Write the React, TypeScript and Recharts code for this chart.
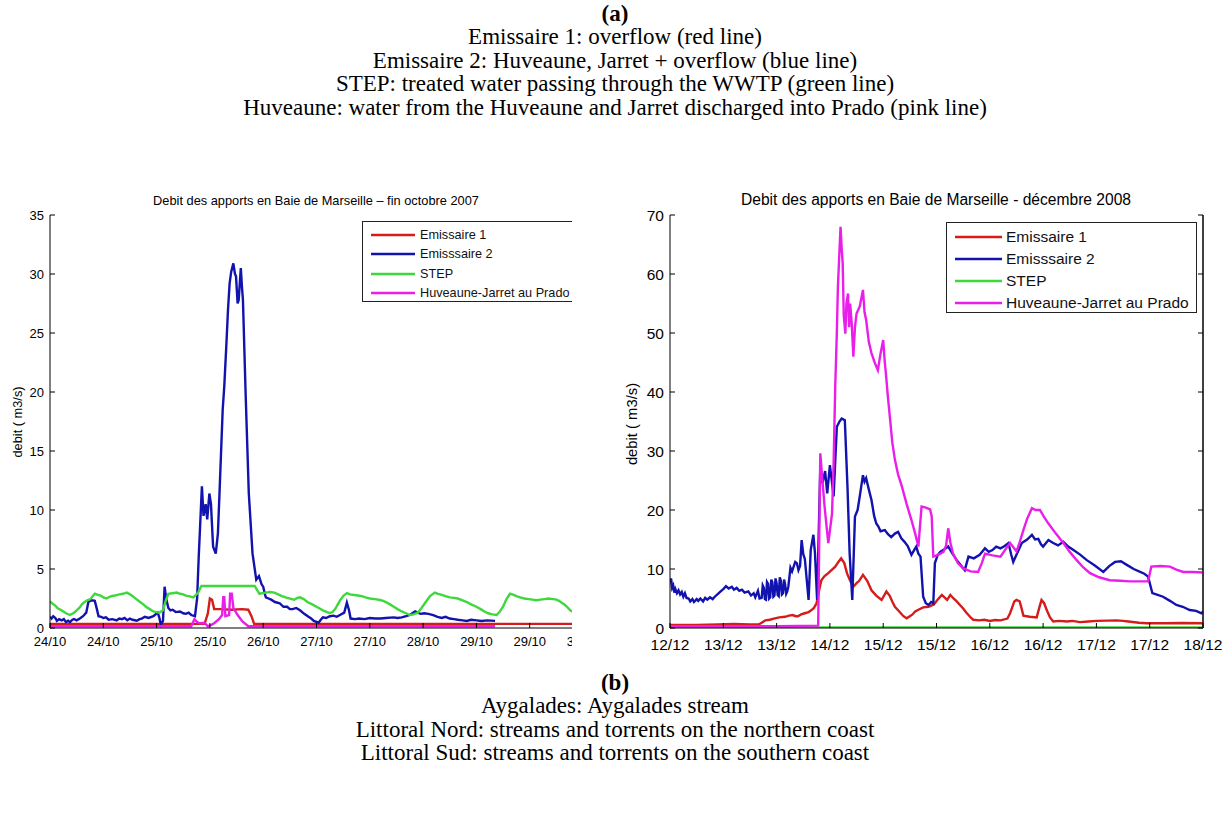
import React from 'react';
import { LineChart, Line, XAxis, YAxis, Legend, ReferenceLine } from 'recharts';

type Pt = [number, number];

// ---------- shared labels ----------
const SERIES_NAMES = ['Emissaire 1', 'Emisssaire 2', 'STEP', 'Huveaune-Jarret au Prado'];
const SERIES_COLORS = ['#d41c1c', '#1212ae', '#3cd83c', '#ea1eea'];
const TICK_STEPS = [0, 1, 2, 3, 4, 5, 6, 7, 8, 9, 10];

// ---------- (a) left panel : fin octobre 2007 ----------
const OCT_TITLE = 'Debit des apports en Baie de Marseille \u2013 fin octobre 2007';
const OCT_X_LABELS = ['24/10', '24/10', '25/10', '25/10', '26/10', '27/10', '27/10', '28/10', '29/10', '29/10', '30/10'];
const OCT_Y_TICKS = [0, 5, 10, 15, 20, 25, 30, 35];

// x = time in axis-tick steps, y = debit (m3/s)
const octEmissaire1: Pt[] = [
  [0, 0.35], [2.9, 0.35], [2.96, 1.2], [3.0, 2.5], [3.04, 2.4], [3.08, 1.6], [3.2, 1.6], [3.4, 1.55],
  [3.6, 1.6], [3.72, 1.55], [3.78, 1.0], [3.83, 0.35], [10, 0.35],
];
const octEmissaire2: Pt[] = [
  [0, 0.95], [0.03, 0.8], [0.06, 1.0], [0.1, 0.85], [0.13, 0.6], [0.17, 0.75], [0.22, 0.65], [0.26, 0.75],
  [0.3, 0.5], [0.34, 0.62], [0.375, 0.5], [0.42, 0.7], [0.45, 0.75], [0.5, 0.65], [0.56, 0.8], [0.62, 1.0],
  [0.68, 1.3], [0.72, 2.2], [0.78, 2.35], [0.84, 2.3], [0.88, 1.6], [0.91, 1.0], [0.96, 0.95], [1.0, 0.85],
  [1.05, 0.9], [1.1, 0.7], [1.17, 0.75], [1.25, 0.65], [1.3, 0.8], [1.35, 0.75], [1.4, 0.85], [1.45, 0.65],
  [1.5, 0.8], [1.55, 0.7], [1.63, 0.62], [1.68, 0.75], [1.72, 0.8], [1.78, 0.95], [1.85, 0.85], [1.94, 1.0],
  [2.02, 1.3], [2.05, 0.9], [2.08, 0.28], [2.12, 0.6], [2.15, 3.5], [2.18, 2.5], [2.22, 1.7], [2.26, 1.5],
  [2.3, 1.55], [2.36, 1.35], [2.44, 1.4], [2.5, 1.25], [2.55, 1.2], [2.6, 1.3], [2.65, 1.1], [2.72, 1.0],
  [2.76, 2.5], [2.79, 6], [2.82, 9], [2.85, 12], [2.88, 9.5], [2.92, 10.5], [2.95, 9.2], [2.99, 11.4],
  [3.02, 10.5], [3.06, 6.9], [3.11, 6.3], [3.15, 8.0], [3.18, 11.4], [3.24, 18.5], [3.27, 20.5], [3.31, 24.1],
  [3.34, 27.0], [3.37, 29.2], [3.4, 30.2], [3.44, 30.9], [3.47, 30.0], [3.49, 29.8], [3.52, 27.5], [3.54, 27.8],
  [3.58, 30.5], [3.6, 29.0], [3.62, 27.8], [3.67, 19.9], [3.73, 11.4], [3.8, 6.3], [3.87, 4.1], [3.92, 4.4],
  [3.97, 3.7], [4.0, 3.5], [4.03, 2.9], [4.05, 2.6], [4.1, 2.5], [4.15, 2.4], [4.22, 2.2], [4.31, 2.1],
  [4.38, 1.8], [4.45, 1.8], [4.5, 1.6], [4.55, 1.6], [4.62, 1.7], [4.69, 1.5], [4.77, 1.2], [4.85, 0.95],
  [4.9, 0.8], [4.95, 0.6], [5.04, 0.45], [5.08, 0.7], [5.12, 0.9], [5.18, 0.85], [5.25, 1.0], [5.32, 1.05],
  [5.38, 0.95], [5.44, 1.1], [5.52, 1.3], [5.57, 2.15], [5.61, 1.5], [5.64, 0.8], [5.72, 0.75], [5.8, 0.8],
  [5.9, 0.75], [6.0, 0.85], [6.1, 0.8], [6.2, 0.8], [6.3, 0.85], [6.45, 0.9], [6.52, 0.85], [6.6, 0.9],
  [6.68, 1.0], [6.75, 1.1], [6.85, 1.4], [6.95, 1.2], [7.02, 1.25], [7.1, 1.2], [7.19, 1.1], [7.27, 0.95],
  [7.35, 0.85], [7.42, 0.95], [7.5, 0.8], [7.58, 0.75], [7.65, 0.7], [7.74, 0.65], [7.82, 0.6], [7.9, 0.7],
  [8.0, 0.65], [8.1, 0.6], [8.2, 0.65], [8.35, 0.6],
];
const octStep: Pt[] = [
  [0, 2.25], [0.05, 2.05], [0.1, 1.9], [0.15, 1.65], [0.2, 1.55], [0.25, 1.4], [0.3, 1.25], [0.375, 1.1],
  [0.45, 1.3], [0.5, 1.5], [0.55, 1.7], [0.6, 2.0], [0.65, 2.2], [0.7, 2.35], [0.76, 2.45], [0.8, 2.7],
  [0.84, 2.9], [0.9, 2.8], [0.95, 2.75], [1.0, 2.6], [1.06, 2.5], [1.1, 2.6], [1.15, 2.7], [1.22, 2.75],
  [1.3, 2.85], [1.37, 2.9], [1.44, 3.0], [1.5, 2.85], [1.55, 2.7], [1.62, 2.45], [1.69, 2.2], [1.75, 2.0],
  [1.8, 1.8], [1.87, 1.6], [1.94, 1.4], [2.0, 1.35], [2.05, 1.3], [2.12, 1.5], [2.17, 2.3], [2.22, 2.9],
  [2.3, 2.95], [2.38, 3.0], [2.44, 2.9], [2.5, 2.85], [2.55, 2.75], [2.6, 2.7], [2.69, 2.6], [2.78, 3.0],
  [2.84, 3.56], [3.3, 3.56], [3.84, 3.56], [3.93, 2.9], [3.98, 2.95], [4.05, 3.0], [4.12, 3.05], [4.21, 3.0],
  [4.28, 2.85], [4.35, 2.7], [4.45, 2.55], [4.58, 2.4], [4.64, 2.55], [4.69, 2.6], [4.76, 2.45], [4.83, 2.2],
  [4.92, 2.0], [5.0, 1.8], [5.06, 1.65], [5.12, 1.5], [5.2, 1.35], [5.25, 1.27], [5.3, 1.35], [5.35, 1.6],
  [5.4, 2.0], [5.45, 2.4], [5.51, 2.75], [5.57, 2.96], [5.63, 2.85], [5.7, 2.8], [5.78, 2.75], [5.85, 2.7],
  [5.92, 2.6], [6.0, 2.5], [6.1, 2.45], [6.19, 2.37], [6.25, 2.3], [6.3, 2.2], [6.38, 2.0], [6.45, 1.8],
  [6.52, 1.6], [6.6, 1.4], [6.68, 1.25], [6.75, 1.1], [6.82, 1.15], [6.9, 1.3], [6.97, 1.7], [7.05, 2.2],
  [7.13, 2.7], [7.22, 3.0], [7.28, 2.9], [7.35, 2.8], [7.42, 2.7], [7.5, 2.6], [7.58, 2.55], [7.65, 2.5],
  [7.74, 2.35], [7.82, 2.2], [7.9, 2.0], [8.0, 1.8], [8.08, 1.6], [8.15, 1.4], [8.22, 1.25], [8.3, 1.15],
  [8.38, 1.1], [8.44, 1.4], [8.5, 1.8], [8.56, 2.4], [8.63, 2.9], [8.7, 2.8], [8.75, 2.7], [8.82, 2.6],
  [8.9, 2.5], [8.98, 2.45], [9.05, 2.4], [9.12, 2.35], [9.2, 2.4], [9.28, 2.45], [9.35, 2.5], [9.44, 2.45],
  [9.5, 2.4], [9.55, 2.3], [9.6, 2.15], [9.65, 2.0], [9.7, 1.8], [9.76, 1.5], [9.82, 1.35], [9.88, 1.2],
  [10, 1.0],
];
const octHuveaune: Pt[] = [
  [0, 0.15], [2.65, 0.15], [2.71, 0.75], [2.76, 0.5], [2.81, 0.4], [2.9, 0.45], [2.96, 0.15], [3.02, 0.25],
  [3.08, 0.4], [3.17, 0.75], [3.23, 1.1], [3.25, 2.6], [3.27, 2.6], [3.29, 1.0], [3.36, 1.1], [3.38, 2.9],
  [3.41, 2.9], [3.44, 1.7], [3.52, 1.1], [3.61, 0.55], [3.72, 0.15], [8.35, 0.15],
];

// ---------- (a) right panel : décembre 2008 ----------
const DEC_TITLE = 'Debit des apports en Baie de Marseille - d\u00e9cembre 2008';
const DEC_X_LABELS = ['12/12', '13/12', '13/12', '14/12', '15/12', '15/12', '16/12', '16/12', '17/12', '17/12', '18/12'];
const DEC_Y_TICKS = [0, 10, 20, 30, 40, 50, 60, 70];

const decEmissaire1: Pt[] = [
  [0, 0.5], [0.5, 0.5], [0.9, 0.6], [1.2, 0.7], [1.5, 0.6], [1.66, 0.6], [1.72, 0.9], [1.79, 1.3],
  [1.87, 1.4], [1.95, 1.6], [2.05, 1.8], [2.16, 1.9], [2.23, 2.1], [2.3, 2.2], [2.36, 2.0], [2.4, 2.0],
  [2.46, 2.3], [2.53, 2.5], [2.6, 2.7], [2.65, 3.0], [2.7, 3.4], [2.75, 4.2], [2.8, 6.5], [2.84, 8.1],
  [2.9, 8.8], [2.97, 9.3], [3.03, 9.8], [3.1, 10.4], [3.16, 11.2], [3.21, 11.8], [3.27, 11.0], [3.32, 9.3],
  [3.38, 8.0], [3.44, 7.0], [3.5, 7.6], [3.55, 8.0], [3.62, 9.0], [3.7, 8.0], [3.78, 6.4], [3.87, 5.5],
  [3.97, 4.75], [4.06, 6.2], [4.12, 5.5], [4.17, 4.5], [4.22, 3.6], [4.28, 3.0], [4.33, 2.5], [4.38, 2.0],
  [4.44, 1.64], [4.5, 2.0], [4.55, 2.3], [4.6, 2.8], [4.66, 3.1], [4.75, 3.5], [4.85, 3.6], [4.95, 4.0],
  [5.02, 4.8], [5.1, 5.6], [5.2, 4.75], [5.26, 5.6], [5.32, 5.0], [5.38, 4.5], [5.44, 3.9], [5.5, 3.3],
  [5.55, 2.7], [5.6, 2.2], [5.65, 1.7], [5.69, 1.4], [5.8, 1.3], [5.9, 1.4], [6.0, 1.2], [6.1, 1.35],
  [6.2, 1.3], [6.33, 1.6], [6.38, 2.5], [6.42, 3.5], [6.46, 4.5], [6.5, 4.75], [6.56, 4.5], [6.6, 3.2],
  [6.63, 2.1], [6.75, 1.9], [6.88, 1.8], [6.93, 3.5], [6.97, 4.75], [7.02, 4.2], [7.07, 3.0], [7.13, 1.8],
  [7.19, 1.1], [7.3, 1.2], [7.45, 1.1], [7.55, 1.2], [7.69, 1.0], [7.85, 1.1], [8.0, 1.2], [8.2, 1.25],
  [8.38, 1.3], [8.5, 1.2], [8.6, 1.1], [8.8, 0.9], [8.94, 0.8], [9.3, 0.8], [9.6, 0.85], [10, 0.8],
];
const decEmissaire2: Pt[] = [
  [0, 7.6], [0.02, 8.4], [0.04, 6.8], [0.06, 7.2], [0.08, 6.0], [0.1, 6.6], [0.13, 5.9], [0.16, 6.4],
  [0.19, 5.7], [0.22, 6.1], [0.25, 5.3], [0.28, 5.9], [0.31, 5.1], [0.35, 5.0], [0.38, 4.5], [0.42, 4.9],
  [0.45, 4.4], [0.5, 4.9], [0.53, 4.6], [0.57, 5.0], [0.62, 4.5], [0.66, 5.1], [0.7, 4.8], [0.75, 5.2],
  [0.8, 4.9], [0.84, 5.3], [0.9, 5.8], [0.95, 6.2], [1.0, 6.6], [1.05, 7.1], [1.1, 6.7], [1.16, 7.0],
  [1.2, 6.5], [1.25, 6.8], [1.3, 6.3], [1.35, 6.5], [1.4, 6.0], [1.47, 6.2], [1.52, 5.5], [1.57, 5.9],
  [1.6, 5.2], [1.65, 6.3], [1.68, 5.0], [1.72, 5.1], [1.74, 7.2], [1.76, 6.8], [1.78, 4.9], [1.8, 4.8],
  [1.82, 7.8], [1.84, 7.5], [1.86, 5.0], [1.88, 5.2], [1.9, 8.2], [1.92, 7.8], [1.94, 5.3], [1.96, 5.5],
  [1.98, 8.4], [2.0, 7.6], [2.02, 5.6], [2.04, 5.4], [2.06, 8.6], [2.08, 8.0], [2.1, 5.7], [2.12, 5.9],
  [2.14, 8.2], [2.16, 7.4], [2.18, 5.8], [2.2, 6.2], [2.22, 7.0], [2.26, 10.2], [2.29, 9.6], [2.32, 10.4],
  [2.35, 11.2], [2.38, 11.0], [2.41, 9.8], [2.44, 10.5], [2.47, 14.9], [2.5, 12.5], [2.53, 11.7], [2.6, 4.75],
  [2.64, 13.2], [2.69, 15.8], [2.72, 12.7], [2.76, 4.75], [2.82, 27.3], [2.86, 24.5], [2.91, 26.6], [2.95, 22.8],
  [3.0, 27.6], [3.07, 22.3], [3.13, 34.1], [3.18, 35.0], [3.22, 35.5], [3.28, 35.2], [3.33, 23.9], [3.37, 12.7],
  [3.42, 4.75], [3.47, 18.9], [3.52, 20.0], [3.56, 22.3], [3.62, 25.9], [3.65, 24.8], [3.68, 25.4], [3.73, 23.5],
  [3.78, 21.7], [3.83, 19.0], [3.87, 17.7], [3.91, 17.2], [3.95, 16.4], [4.03, 16.6], [4.09, 15.9], [4.15, 15.4],
  [4.22, 16.0], [4.28, 16.3], [4.34, 15.2], [4.4, 14.6], [4.46, 13.9], [4.53, 12.4], [4.58, 13.2], [4.62, 13.8],
  [4.66, 12.6], [4.7, 12.1], [4.75, 5.3], [4.8, 4.2], [4.85, 3.9], [4.9, 4.4], [4.94, 4.2], [4.97, 11.0],
  [5.02, 12.3], [5.07, 12.9], [5.14, 13.3], [5.22, 13.8], [5.3, 12.6], [5.38, 11.5], [5.46, 10.6], [5.53, 9.8],
  [5.6, 12.1], [5.7, 11.8], [5.81, 12.4], [5.91, 13.5], [5.98, 12.9], [6.05, 13.2], [6.12, 13.8], [6.2, 13.5],
  [6.28, 13.9], [6.35, 14.4], [6.4, 12.5], [6.44, 11.2], [6.5, 12.4], [6.6, 14.4], [6.7, 15.0], [6.79, 15.8],
  [6.85, 15.0], [6.91, 15.1], [6.96, 14.2], [7.0, 13.8], [7.1, 14.9], [7.19, 14.4], [7.28, 14.0], [7.38, 14.6],
  [7.47, 13.8], [7.57, 13.2], [7.7, 12.4], [7.82, 11.5], [7.97, 10.6], [8.13, 9.5], [8.24, 10.5], [8.35, 11.2],
  [8.46, 11.3], [8.57, 10.7], [8.7, 10.0], [8.82, 9.5], [8.9, 9.2], [8.97, 8.7], [9.05, 5.9], [9.15, 5.6],
  [9.25, 5.3], [9.38, 4.6], [9.5, 3.9], [9.62, 3.6], [9.75, 3.05], [9.87, 2.9], [9.97, 2.5], [10, 2.8],
];
const decStep: Pt[] = [
  [0, 0.1], [2.5, 0.1], [5, 0.1], [7.5, 0.1], [10, 0.1],
];
const decHuveaune: Pt[] = [
  [0, 0.3], [2.0, 0.3], [2.78, 0.4], [2.82, 29.6], [2.86, 25.0], [2.9, 20.6], [2.94, 17.0], [2.97, 14.4],
  [3.0, 16.5], [3.04, 19.4], [3.07, 28.0], [3.1, 40.9], [3.13, 50.0], [3.15, 57.8], [3.18, 64.0], [3.2, 68],
  [3.22, 64.5], [3.24, 61.8], [3.26, 53.0], [3.29, 49.9], [3.31, 55.0], [3.34, 56.7], [3.36, 51.0], [3.38, 55],
  [3.41, 51.5], [3.44, 46], [3.47, 51.0], [3.5, 53.3], [3.56, 54.5], [3.62, 57.3], [3.65, 53.5], [3.68, 52.2],
  [3.73, 48.5], [3.78, 46.6], [3.84, 45.0], [3.9, 43.7], [3.95, 46.5], [4.0, 48.8], [4.03, 45.0], [4.05, 43.2],
  [4.09, 39.0], [4.13, 35.3], [4.17, 31.5], [4.22, 28.5], [4.28, 26.0], [4.35, 24], [4.44, 21.0], [4.53, 18.3],
  [4.6, 16.0], [4.66, 13.8], [4.72, 20.6], [4.8, 20.4], [4.88, 20.1], [4.91, 18.9], [4.94, 12.1], [5.03, 12.4],
  [5.13, 12.9], [5.18, 14.0], [5.22, 16.9], [5.26, 14.5], [5.31, 12.6], [5.4, 11.0], [5.5, 10.1], [5.64, 9.6],
  [5.78, 9.5], [5.85, 11.0], [5.91, 12.6], [6.05, 12.3], [6.2, 12.1], [6.3, 13.4], [6.38, 14.4], [6.5, 13.0],
  [6.56, 14.5], [6.63, 16.6], [6.7, 18.5], [6.79, 20.3], [6.86, 20.0], [6.94, 20.0], [7.02, 18.8], [7.1, 17.7],
  [7.24, 16.0], [7.38, 14.4], [7.5, 12.9], [7.63, 11.5], [7.75, 10.3], [7.88, 9.3], [8.05, 8.6], [8.25, 8.1],
  [8.45, 8.0], [8.63, 7.9], [8.8, 7.9], [8.97, 7.9], [9.03, 10.4], [9.2, 10.5], [9.38, 10.4], [9.5, 9.9],
  [9.63, 9.5], [9.8, 9.5], [10, 9.4],
];

// ---------- caption texts ----------
const CAPTION_A = [
  'Emissaire 1: overflow (red line)',
  'Emissaire 2: Huveaune, Jarret + overflow (blue line)',
  'STEP: treated water passing through the WWTP (green line)',
  'Huveaune: water from the Huveaune and Jarret discharged into Prado (pink line)',
];
const CAPTION_B = [
  'Aygalades: Aygalades stream',
  'Littoral Nord: streams and torrents on the northern coast',
  'Littoral Sud: streams and torrents on the southern coast',
];

const rows = (pts: Pt[]) => pts.map(([t, v]) => ({ t, v }));
const SANS = '"Liberation Sans", Arial, sans-serif';
const SERIF = '"Liberation Serif", "Times New Roman", serif';
const EmptyTick = () => <g />;

type LegendBox = { left: number; top: number; width: number; height: number; first: number; rowH: number; lineX: number; lineW: number; textX: number; font: number };

function FlowChart(props: {
  series: Pt[][];
  yMax: number;
  yTicks: number[];
  xLabels: string[];
  font: number;
  xLabelGap: number;
  legend: LegendBox;
}) {
  const { series, yMax, yTicks, xLabels, font, xLabelGap, legend } = props;
  const tickStyle = { fill: '#000', fontSize: font, fontFamily: SANS };
  const renderLegend = () => (
    <div
      style={{
        position: 'relative',
        width: legend.width,
        height: legend.height,
        boxSizing: 'border-box',
        border: '1.5px solid #222',
        background: '#fff',
        fontFamily: SANS,
        fontSize: legend.font,
        color: '#111',
      }}
    >
      {SERIES_NAMES.map((name, i) => (
        <div key={name} style={{ position: 'absolute', left: 0, top: legend.first + i * legend.rowH - 10, height: 20, width: '100%' }}>
          <svg width={legend.lineX + legend.lineW + 2} height={20} style={{ position: 'absolute', left: 0, top: 0 }}>
            <line x1={legend.lineX} x2={legend.lineX + legend.lineW} y1={10} y2={10} stroke={SERIES_COLORS[i]} strokeWidth={2.5} />
          </svg>
          <span style={{ position: 'absolute', left: legend.textX, top: 10, transform: 'translateY(-50%)', whiteSpace: 'nowrap', lineHeight: 1 }}>{name}</span>
        </div>
      ))}
    </div>
  );
  return (
    <LineChart width={612} height={468} margin={{ top: 25, right: 28, left: 0, bottom: 0 }}>
      <XAxis
        xAxisId="b"
        dataKey="t"
        type="number"
        domain={[0, 10]}
        ticks={TICK_STEPS}
        interval={0}
        allowDataOverflow
        height={30}
        stroke="#000"
        tickSize={-5}
        tickMargin={xLabelGap}
        tick={tickStyle}
        tickFormatter={(v: number) => xLabels[Math.round(v)]}
      />
      <XAxis xAxisId="top" orientation="top" type="number" domain={[0, 10]} ticks={TICK_STEPS} interval={0} allowDataOverflow height={0} stroke="#000" tickSize={-5} tick={EmptyTick} />
      <YAxis
        yAxisId="l"
        type="number"
        domain={[0, yMax]}
        ticks={yTicks}
        interval={0}
        allowDataOverflow
        width={50}
        stroke="#000"
        tickSize={-5}
        tickMargin={11}
        tick={tickStyle}
      />
      <YAxis yAxisId="r" orientation="right" type="number" domain={[0, yMax]} ticks={yTicks} interval={0} allowDataOverflow width={1} stroke="#000" tickSize={-5} tick={EmptyTick} />
      <ReferenceLine xAxisId="b" yAxisId="l" x={10} stroke="#000" strokeWidth={1} ifOverflow="visible" />
      {series.map((s, i) => (
        <Line
          key={SERIES_NAMES[i]}
          xAxisId="b"
          yAxisId="l"
          data={rows(s)}
          dataKey="v"
          name={SERIES_NAMES[i]}
          type="linear"
          stroke={SERIES_COLORS[i]}
          strokeWidth={2.4}
          dot={false}
          activeDot={false}
          isAnimationActive={false}
        />
      ))}
      <Legend
        layout="horizontal"
        verticalAlign="middle"
        align="center"
        content={renderLegend}
        wrapperStyle={{ position: 'absolute', left: legend.left, top: legend.top, width: legend.width, height: legend.height }}
      />
    </LineChart>
  );
}

export default function App() {
  return (
    <div style={{ position: 'absolute', left: 0, top: 0, width: 1230, height: 819, background: '#fff', overflow: 'hidden' }}>
      {/* caption (a) */}
      <div style={{ position: 'absolute', left: 0, top: 2, width: 1230, textAlign: 'center', fontFamily: SERIF, fontSize: 23, lineHeight: '23.4px', color: '#000' }}>
        <div style={{ fontWeight: 'bold' }}>(a)</div>
        {CAPTION_A.map((l) => (
          <div key={l}>{l}</div>
        ))}
      </div>

      {/* left panel, cropped at its right side as in the source figure */}
      <div style={{ position: 'absolute', left: 0, top: 0, width: 572, height: 819, overflow: 'hidden' }}>
        <div style={{ position: 'absolute', left: 66, top: 193, width: 500, textAlign: 'center', fontFamily: SANS, fontSize: 12.8, lineHeight: '16px', whiteSpace: 'nowrap' }}>{OCT_TITLE}</div>
        <div style={{ position: 'absolute', left: 17, top: 422, transform: 'translate(-50%,-50%) rotate(-90deg)', fontFamily: SANS, fontSize: 12.8, whiteSpace: 'nowrap' }}>debit ( m3/s)</div>
        <div style={{ position: 'absolute', left: 0, top: 190 }}>
          <FlowChart
            series={[octEmissaire1, octEmissaire2, octStep, octHuveaune]}
            yMax={35}
            yTicks={OCT_Y_TICKS}
            xLabels={OCT_X_LABELS}
            font={13}
            xLabelGap={14}
            legend={{ left: 362, top: 31, width: 215, height: 81, first: 13, rowH: 19.3, lineX: 8, lineW: 44, textX: 57, font: 12.7 }}
          />
        </div>
      </div>

      {/* right panel */}
      <div style={{ position: 'absolute', left: 686, top: 191, width: 500, textAlign: 'center', fontFamily: SANS, fontSize: 15.6, lineHeight: '18px', whiteSpace: 'nowrap' }}>{DEC_TITLE}</div>
      <div style={{ position: 'absolute', left: 632, top: 424, transform: 'translate(-50%,-50%) rotate(-90deg)', fontFamily: SANS, fontSize: 14.8, whiteSpace: 'nowrap' }}>debit ( m3/s)</div>
      <div style={{ position: 'absolute', left: 620, top: 190 }}>
        <FlowChart
          series={[decEmissaire1, decEmissaire2, decStep, decHuveaune]}
          yMax={70}
          yTicks={DEC_Y_TICKS}
          xLabels={DEC_X_LABELS}
          font={15.5}
          xLabelGap={16}
          legend={{ left: 326, top: 32, width: 251, height: 91, first: 14, rowH: 21.9, lineX: 8, lineW: 47, textX: 59, font: 15.5 }}
        />
      </div>

      {/* caption (b) */}
      <div style={{ position: 'absolute', left: 0, top: 671, width: 1230, textAlign: 'center', fontFamily: SERIF, fontSize: 23, lineHeight: '23.4px', color: '#000' }}>
        <div style={{ fontWeight: 'bold' }}>(b)</div>
        {CAPTION_B.map((l) => (
          <div key={l}>{l}</div>
        ))}
      </div>
    </div>
  );
}
